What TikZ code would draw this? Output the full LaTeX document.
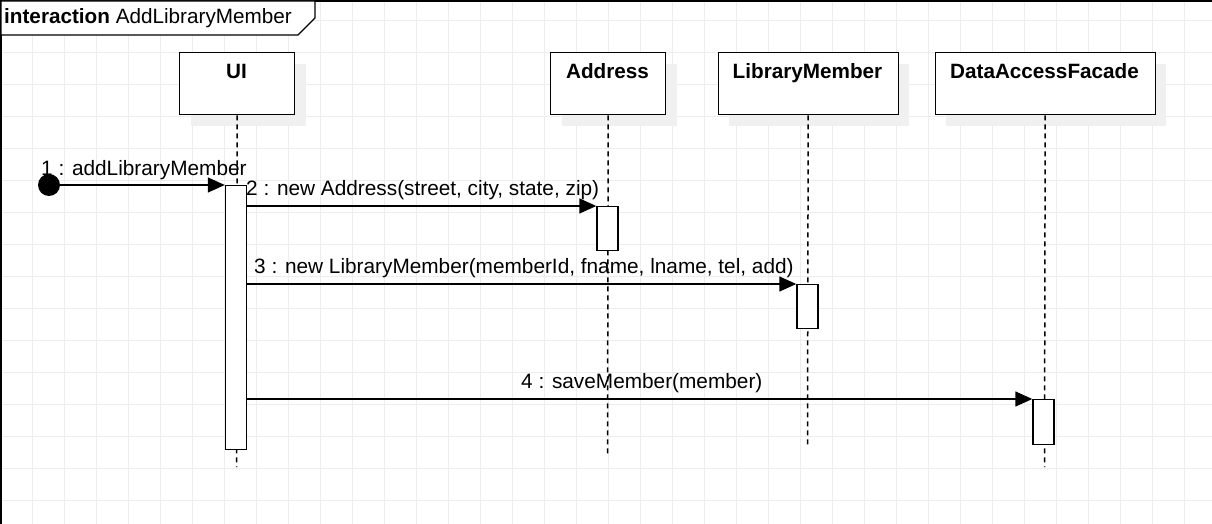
\documentclass[tikz,border=0pt]{standalone}
\usepackage{fontspec}
\setmainfont{Liberation Sans}
\usetikzlibrary{arrows.meta,shadows}
\definecolor{gridc}{HTML}{EDEDED}
\definecolor{shadc}{HTML}{F0F0F0}
\tikzset{
  headbox/.style={draw=black, fill=white, line width=1.4pt, rectangle, inner sep=0pt,
    minimum height=62pt, anchor=north west,
    general shadow={fill=shadc, shadow xshift=11pt, shadow yshift=-11pt}},
  headtxt/.style={anchor=base, inner sep=0pt, font=\fontsize{20.7}{24}\selectfont\bfseries},
  actbox/.style={draw=black, fill=white, line width=1.4pt, rectangle, inner sep=0pt,
    minimum width=21pt, anchor=north},
  lifeline/.style={line width=1.5pt, dash pattern=on 5pt off 4pt},
  msg/.style={line width=1.4pt, -{Triangle[length=17pt,width=15pt]}},
  msgtxt/.style={anchor=base west, inner sep=0pt, font=\fontsize{20.8}{24}\selectfont},
}
\begin{document}
\begin{tikzpicture}[x=1pt,y=-1pt]
\useasboundingbox (0,0) rectangle (1212,524);
\fill[white] (0,0) rectangle (1212,524);
% grid
\foreach \gx in {0,32,...,1210} \draw[gridc, line width=0.9pt] (\gx,0) -- (\gx,524);
\foreach \gy in {20,52,...,524} \draw[gridc, line width=0.9pt] (0,\gy) -- (1212,\gy);
% frame
\draw[line width=1.6pt] (1,524) -- (1,1) -- (1212,1);
\filldraw[fill=white, draw=black, line width=1.4pt] (1,1) -- (315,1) -- (315,18) -- (298,35) -- (1,35) -- cycle;
\node[anchor=base west, inner sep=0pt, font=\fontsize{20.7}{24}\selectfont] (title) at (4,24) {\textbf{interaction} AddLibraryMember};
% heads
\node[headbox, minimum width=115pt] (ui) at (179,52) {};
\node[headbox, minimum width=115pt] (addr) at (550,52) {};
\node[headbox, minimum width=180pt] (lm) at (717.5,52) {};
\node[headbox, minimum width=220pt] (daf) at (934.5,52) {};
\node[headtxt] (uit) at (236.5,79) {UI};
\node[headtxt] (addrt) at (607.5,79) {Address};
\node[headtxt] (lmt) at (807.5,79) {LibraryMember};
\node[headtxt] (daft) at (1044.5,79) {DataAccessFacade};
% lifeline ends
\coordinate (uiend) at (236.5,467);
\coordinate (addrend) at (607.5,457);
\coordinate (lmend) at (807.5,446);
\coordinate (dafend) at (1044.5,467);
\draw[lifeline] (ui.south) -- (uiend);
\draw[lifeline] (addr.south) -- (addrend);
\draw[lifeline] (lm.south) -- (lmend);
\draw[lifeline] (daf.south) -- (dafend);
% activations
\node[actbox, minimum height=264pt] (uia) at (236,185) {};
\node[actbox, minimum height=44pt] (addra) at (607.5,206) {};
\node[actbox, minimum height=44pt] (lma) at (807.5,284) {};
\node[actbox, minimum height=45pt] (dafa) at (1043.5,399) {};
% found message
\fill (49,185) circle (11);
\node[inner sep=0pt] (dot) at (49,185) {};
\draw[msg] (dot) -- (uia.north west);
\node[msgtxt] (m1) at (41,175) {1 : addLibraryMember};
\draw[msg] (uia.east |- addra.north) -- (addra.north west);
\node[msgtxt] (m2) at (246,195) {2 : new Address(street, city, state, zip)};
\draw[msg] (uia.east |- lma.north) -- (lma.north west);
\node[msgtxt] (m3) at (254,273) {3 : new LibraryMember(memberId, fname, lname, tel, add)};
\draw[msg] (uia.east |- dafa.north) -- (dafa.north west);
\node[msgtxt] (m4) at (521,388) {4 : saveMember(member)};
\end{tikzpicture}
\end{document}
